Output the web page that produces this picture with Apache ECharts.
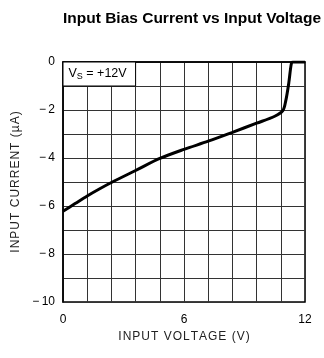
<!DOCTYPE html>
<html>
<head>
<meta charset="utf-8">
<script src="https://cdn.jsdelivr.net/npm/echarts@6/dist/echarts.min.js"></script>
<style>
  html, body { margin: 0; padding: 0; background: #fff; }
  #chart { width: 324px; height: 358px; }
</style>
</head>
<body>
<div id="chart"></div>
<script>
// input voltage (V) and input bias current (uA)
let voltage = [0, 0.6, 1.2, 1.8, 2.4, 3.6, 4.8, 6.0, 7.2, 8.4, 9.6, 10.5, 10.9, 11.05, 11.2, 11.32, 11.4, 12];
let current = [-6.22, -5.9, -5.58, -5.29, -5.02, -4.52, -4.02, -3.64, -3.3, -2.93, -2.55, -2.26, -2.03, -1.6, -0.85, -0.08, 0, 0];
let xTicks = [0, 6, 12];
let yTicks = [0, -2, -4, -6, -8, -10];
let noteLabel = 'V_S = +12V';

let points = voltage.map(function (v, i) { return [v, current[i]]; });

let myChart = echarts.init(document.getElementById('chart'));
let font = '"Liberation Sans", Arial, sans-serif';

// spread the letters of the axis names a little, like the original plot
function spaced(s) { return s.split('').join('\u200A'); }

let option = {
    animation: false,
    title: {
        text: 'Input Bias Current vs Input Voltage',
        left: 187,
        textAlign: 'center',
        top: 6,
        textStyle: { fontSize: 15.5, fontWeight: 'bold', color: '#000', fontFamily: font }
    },
    grid: {
        left: 63, right: 19, top: 62, bottom: 56,
        show: true, borderColor: '#000', borderWidth: 1.5
    },
    xAxis: {
        type: 'value',
        min: xTicks[0], max: xTicks[xTicks.length - 1], interval: 6,
        name: spaced('INPUT VOLTAGE (V)'),
        nameLocation: 'middle', nameGap: 28,
        nameTextStyle: { fontSize: 12, color: '#222', fontFamily: font },
        axisLine: { lineStyle: { color: '#000', width: 1.5 } },
        axisTick: { show: false },
        axisLabel: { fontSize: 12, color: '#000', margin: 12, fontFamily: font },
        splitLine: { show: true, lineStyle: { color: '#333', width: 1 } },
        minorTick: { show: false, splitNumber: 5 },
        minorSplitLine: { show: true, lineStyle: { color: '#333', width: 1 } }
    },
    yAxis: {
        type: 'value',
        min: yTicks[yTicks.length - 1], max: yTicks[0], interval: 2,
        name: spaced('INPUT CURRENT (µA)'),
        nameLocation: 'middle', nameGap: 37,
        nameTextStyle: { fontSize: 12, color: '#222', fontFamily: font },
        axisLine: { show: true, lineStyle: { color: '#000', width: 1.5 } },
        axisTick: { show: false },
        axisLabel: {
            fontSize: 12, color: '#000', margin: 8, fontFamily: font,
            formatter: function (v) { return v < 0 ? '\u2212\u2009' + Math.abs(v) : String(v); }
        },
        splitLine: { show: true, lineStyle: { color: '#333', width: 1 } },
        minorTick: { show: false, splitNumber: 2 },
        minorSplitLine: { show: true, lineStyle: { color: '#333', width: 1 } }
    },
    series: [{
        type: 'line',
        data: points,
        showSymbol: false,
        smooth: 0.3,
        lineStyle: { color: '#000', width: 3 },
        markArea: {
            silent: true,
            itemStyle: { color: '#fff', borderColor: '#000', borderWidth: 1 },
            label: {
                position: 'insideLeft', distance: 6,
                formatter: '{a|V}{b|S}{a| = +12V}',
                rich: {
                    a: { fontSize: 12.5, color: '#000', fontFamily: font },
                    b: { fontSize: 9, color: '#000', fontFamily: font, verticalAlign: 'bottom', padding: [6, 0, 0, 0] }
                }
            },
            data: [[{ name: noteLabel, coord: [0, 0] }, { coord: [3.6, -1] }]]
        }
    }]
};
myChart.setOption(option);
window.addEventListener('resize', function () { myChart.resize(); });
</script>
</body>
</html>
